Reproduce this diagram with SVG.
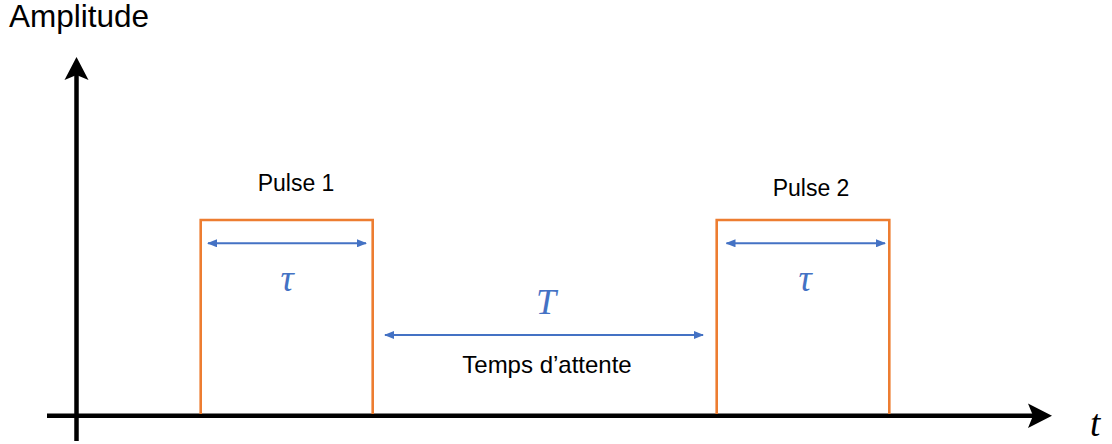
<svg xmlns="http://www.w3.org/2000/svg" width="1112" height="444" viewBox="0 0 1112 444">
  <style>
    .lbl { font-family: "Liberation Sans", Arial, sans-serif; font-size: 23px; fill: #000; }
    .math { font-family: "Liberation Serif", "DejaVu Serif", serif; font-style: italic; fill: #4472C4; }
    .pulse { fill: none; stroke: #ED7D31; stroke-width: 2.6; }
    .dim { stroke: #4472C4; stroke-width: 2; fill: none; marker-start: url(#bh); marker-end: url(#bh); }
    .axis { stroke: #000; stroke-width: 4.5; fill: none; }
  </style>
  <defs>
    <marker id="bh" viewBox="0 0 10 8" refX="9" refY="4" markerWidth="5" markerHeight="4" orient="auto-start-reverse" markerUnits="strokeWidth">
      <path d="M0,0 L10,4 L0,8 Z" fill="#4472C4"/>
    </marker>
  </defs>
  <rect width="1112" height="444" fill="#fff"/>
  <g id="connectors">
    <line class="axis" x1="76.5" y1="441" x2="76.5" y2="72"/>
    <path d="M76.5,57 L88.5,80 L76.5,75 L64.5,80 Z" fill="#000"/>
    <line class="axis" x1="47" y1="415.8" x2="1036" y2="415.8"/>
    <path d="M1052,415.8 L1028,428 L1033,415.8 L1028,403.5 Z" fill="#000"/>
    <line class="dim" x1="208" y1="243.3" x2="366" y2="243.3"/>
    <line class="dim" x1="726.5" y1="243.3" x2="885" y2="243.3"/>
    <line class="dim" x1="385" y1="335" x2="703" y2="335"/>
  </g>
  <g id="axis-labels">
    <text class="lbl" x="9" y="27" style="font-size:31.5px">Amplitude</text>
    <text class="math" x="1090" y="436" style="font-size:37px;fill:#000">t</text>
  </g>
  <g id="pulse1">
    <path class="pulse" d="M200.7,414 V220 H372.7 V414"/>
    <text class="lbl" x="296" y="191" text-anchor="middle">Pulse 1</text>
    <text class="math" x="287" y="291" text-anchor="middle" style="font-size:37px">τ</text>
  </g>
  <g id="pulse2">
    <path class="pulse" d="M716.7,414 V220 H889.3 V414"/>
    <text class="lbl" x="811" y="196" text-anchor="middle">Pulse 2</text>
    <text class="math" x="805" y="291" text-anchor="middle" style="font-size:37px">τ</text>
  </g>
  <g id="wait">
    <text class="math" x="546" y="314" text-anchor="middle" style="font-size:36px">T</text>
    <text class="lbl" x="547" y="373" text-anchor="middle" style="font-size:24px">Temps d’attente</text>
  </g>
</svg>
